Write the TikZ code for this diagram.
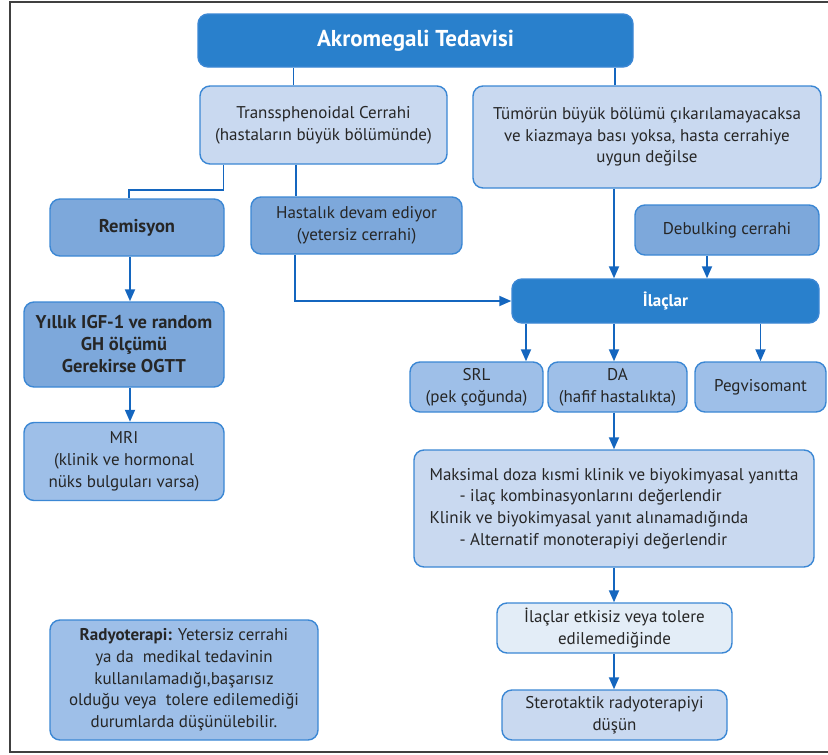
\documentclass[tikz,border=0pt]{standalone}
\usepackage{fontspec}
\setmainfont{PT Sans}
\usepackage{tikz}
\usetikzlibrary{arrows.meta}
\definecolor{headblue}{rgb}{0.16,0.50,0.80}
\definecolor{midblue}{rgb}{0.49,0.66,0.86}
\definecolor{softblue}{rgb}{0.62,0.75,0.91}
\definecolor{paleblue}{rgb}{0.79,0.85,0.94}
\definecolor{faintblue}{rgb}{0.89,0.93,0.97}
\definecolor{edgeblue}{rgb}{0.23,0.53,0.83}
\definecolor{linkblue}{rgb}{0.08,0.40,0.75}
\definecolor{textgray}{rgb}{0.15,0.15,0.15}
\definecolor{framegray}{rgb}{0.25,0.25,0.25}

\begin{document}
\begin{tikzpicture}[x=1pt,y=-1pt,
  box/.style={draw=edgeblue, line width=1.4pt, rounded corners=10pt, align=center,
    text=textgray, inner sep=0pt, font=\fontsize{17}{21.7}\selectfont},
  boldbox/.style={box, fill=midblue, font=\fontsize{18.5}{22}\selectfont\bfseries},
  headbox/.style={box, fill=headblue, text=white, font=\fontsize{23}{26}\selectfont\bfseries},
  link/.style={draw=linkblue, line width=1.8pt},
  arrow/.style={link, -{Triangle[length=12pt,width=10pt]}}]
\clip (0,0) rectangle (828,755);
\draw[framegray, line width=2pt] (840,2) -- (10,2) -- (10,752) -- (840,752);
\coordinate (axis) at (614,0);
\node[headbox, minimum width=435pt, minimum height=53pt] (title) at (415.5,40.5) {Akromegali Tedavisi};
\node[box, fill=paleblue, minimum width=247pt, minimum height=78pt] (trans) at (323.5,125)
  {Transsphenoidal Cerrahi\\(hastaların büyük bölümünde)};
\node[box, fill=paleblue, minimum width=348pt, minimum height=102pt] (tumor) at (647,137)
  {Tümörün büyük bölümü çıkarılamayacaksa\\ve kiazmaya bası yoksa, hasta cerrahiye\\uygun değilse};
\node[boldbox, minimum width=174pt, minimum height=57pt] (remis) at (137,227.5) {Remisyon};
\node[box, fill=midblue, minimum width=211pt, minimum height=57pt] (hast) at (356.5,225.5)
  {Hastalık devam ediyor\\(yetersiz cerrahi)};
\node[box, fill=midblue, minimum width=184pt, minimum height=50pt] (debulk) at (727,230) {Debulking cerrahi};
\node[headbox, minimum width=307pt, minimum height=44pt, font=\fontsize{17}{21}\selectfont\bfseries] (ilac) at (665.5,301) {İlaçlar};
\node[box, fill=softblue, minimum width=133pt, minimum height=50pt] (srl) at (476.5,387) {SRL\\(pek çoğunda)};
\node[box, fill=softblue, minimum width=139pt, minimum height=50pt] (da) at (617.5,387) {DA\\(hafif hastalıkta)};
\node[box, fill=softblue, minimum width=131pt, minimum height=50pt] (peg) at (760.5,387) {Pegvisomant};
\node[box, fill=paleblue, minimum width=400pt, minimum height=117pt, align=left] (maks) at (614,508.5)
  {Maksimal doza kısmi klinik ve biyokimyasal yanıtta\\
   \hspace*{30pt}- ilaç kombinasyonlarını değerlendir\\
   Klinik ve biyokimyasal yanıt alınamadığında\\
   \hspace*{30pt}- Alternatif monoterapiyi değerlendir};
\node[box, fill=faintblue, minimum width=235pt, minimum height=50pt] (etki) at (614.5,628)
  {İlaçlar etkisiz veya tolere\\edilemediğinde};
\node[box, fill=paleblue, minimum width=225pt, minimum height=50pt] (stero) at (614.5,715)
  {Sterotaktik radyoterapiyi\\düşün};
\node[boldbox, minimum width=200pt, minimum height=85pt] (yillik) at (124,344.5)
  {Yıllık IGF-1 ve random\\GH ölçümü\\Gerekirse OGTT};
\node[box, fill=softblue, minimum width=200pt, minimum height=78pt] (mri) at (124,461.5)
  {MRI\\(klinik ve hormonal\\nüks bulguları varsa)};
\node[box, fill=softblue, minimum width=268pt, minimum height=120pt] (radyo) at (184,680)
  {\textbf{Radyoterapi:} Yetersiz cerrahi\\ya da\ \ medikal tedavinin\\kullanılamadığı,başarısız\\olduğu veya\ \ tolere edilemediği\\durumlarda düşünülebilir.};
\draw[link] ([xshift=-30pt]trans.north) -- ([xshift=-30pt]trans.north |- title.south);
\draw[link] ([xshift=-32pt]tumor.north) -- ([xshift=-32pt]tumor.north |- title.south);
\draw[link] ([xshift=-100pt]trans.south) -- ++(0,25) -| ([xshift=-8pt]remis.north);
\draw[link] ([xshift=-27.5pt]trans.south) -- ([xshift=-27.5pt]trans.south |- hast.north);
\draw[arrow] ([xshift=-7pt]remis.south) -- ([xshift=-7pt]remis.south |- yillik.north);
\draw[arrow] ([xshift=6pt]yillik.south) -- ([xshift=6pt]yillik.south |- mri.north);
\draw[arrow] ([xshift=-61.5pt]hast.south) |- (ilac.west);
\draw[arrow] (tumor.south -| axis) -- (ilac.north -| axis);
\draw[arrow] ([xshift=-20pt]debulk.south) -- ([xshift=-20pt]debulk.south |- ilac.north);
\draw[arrow] ([xshift=49.5pt]srl.north |- ilac.south) -- ([xshift=49.5pt]srl.north);
\draw[arrow] (ilac.south -| axis) -- (da.north -| axis);
\draw[arrow] (ilac.south -| peg) -- (peg.north);
\draw[arrow] (da.south -| axis) -- (maks.north -| axis);
\draw[arrow] (maks.south -| axis) -- (etki.north -| axis);
\draw[arrow] (etki.south -| axis) -- (stero.north -| axis);
\end{tikzpicture}
\end{document}
